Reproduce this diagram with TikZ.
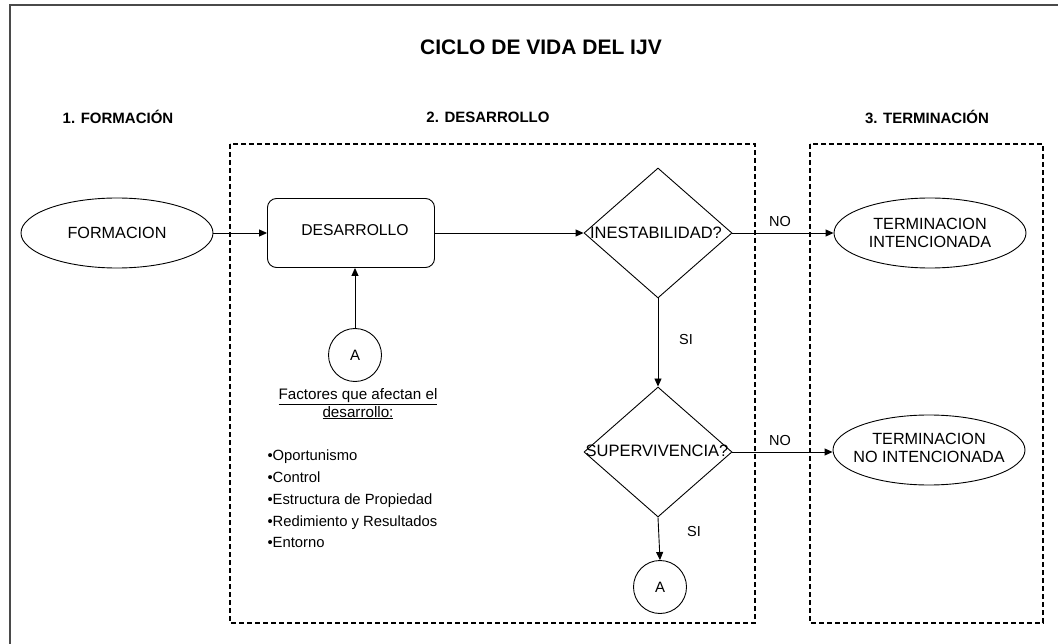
\documentclass[tikz,border=0pt]{standalone}
\usepackage{fontspec}
\setmainfont{Liberation Sans}
\usetikzlibrary{shapes.geometric,arrows.meta}
\definecolor{framegray}{HTML}{4A4A4A}
\tikzset{
  every node/.style={font=\fontsize{14.5}{15}\selectfont, text=black},
  ellbox/.style={ellipse, draw, line width=0.9pt, minimum width=192pt, minimum height=70pt, inner sep=0pt},
  etext/.style={align=center, font=\fontsize{16.2}{17.5}\selectfont},
  roundbox/.style={rectangle, rounded corners=9pt, draw, line width=0.9pt, minimum width=167pt, minimum height=69pt, inner sep=0pt},
  decision/.style={diamond, draw, line width=0.9pt, minimum width=148pt, minimum height=130pt, inner sep=0pt},
  dtext/.style={font=\fontsize{16.5}{17}\selectfont},
  conn/.style={draw, line width=0.9pt, -{Triangle[length=8pt,width=7pt]}},
  circ/.style={circle, draw, line width=0.9pt, minimum size=53pt, inner sep=0pt, font=\fontsize{15}{16}\selectfont},
  zone/.style={draw, line width=1.1pt, dash pattern=on 5pt off 3pt},
  heading/.style={font=\fontsize{15}{16}\selectfont\bfseries},
  lbl/.style={font=\fontsize{14.5}{15}\selectfont}
}
\begin{document}
\begin{tikzpicture}[x=1pt,y=-1pt]
\useasboundingbox (0,0) rectangle (1058,644);
% frame
\draw[framegray, line width=1.6pt] (10,644) -- (10,5) -- (1058,5);
% title & headings
\node[font=\fontsize{21}{22}\selectfont\bfseries] (title) at (541,47) {CICLO DE VIDA DEL IJV};
\node[heading] (h1) at (118,117) {1. FORMACIÓN};
\node[heading] (h2) at (488,117) {2. DESARROLLO};
\node[heading] (h3) at (927,117) {3. TERMINACIÓN};
% zones
\draw[zone] (230,144) rectangle (755,623);
\draw[zone] (810,144) rectangle (1043,623);
% nodes
\node[ellbox] (form) at (117,233) {};
\node[etext] (formtxt) at (117,233) {FORMACION};
\node[roundbox] (des) at (351,233) {};
\node[dtext, font=\fontsize{15.7}{17}\selectfont] (destxt) at (355,230) {DESARROLLO};
\node[decision] (inest) at (658,233) {};
\node[dtext] (inesttxt) at (656,233) {INESTABILIDAD?};
\node[decision] (super) at (658,452) {};
\node[dtext] (supertxt) at (657,451) {SUPERVIVENCIA?};
\node[ellbox] (ti) at (930,233) {};
\node[etext] (titxt) at (930,233) {TERMINACION\\INTENCIONADA};
\node[ellbox] (tni) at (929,450) {};
\node[etext] (tnitxt) at (929,448) {TERMINACION\\NO INTENCIONADA};
\node[circ] (a1) at (355,355) {A};
\node[circ] (a2) at (660,587) {A};
% factors
\node[align=center, font=\fontsize{15.2}{12}\selectfont] (fac) at (358,404) {\underline{Factores que afectan el}\\\underline{desarrollo:}};
\node[anchor=west, align=left, font=\fontsize{14.8}{21.8}\selectfont] (list) at (264,499) {•Oportunismo\\•Control\\•Estructura de Propiedad\\•Redimiento y Resultados\\•Entorno};
% connectors
\draw[conn] (form.east) -- (des.west);
\draw[conn] (des.east) -- (inest.west);
\draw[conn] (inest.east) -- (ti.west);
\draw[conn] (inest.south) -- (super.north);
\draw[conn] (super.east) -- (tni.west |- super.east);
\draw[conn] (super.south) -- (a2.north);
\draw[conn] (a1.north) -- (a1.north |- des.south);
% labels
\node[lbl] (no1) at (780,222) {NO};
\node[lbl] (no2) at (780,441) {NO};
\node[lbl] (si1) at (686,340) {SI};
\node[lbl] (si2) at (694,532) {SI};
\end{tikzpicture}
\end{document}
